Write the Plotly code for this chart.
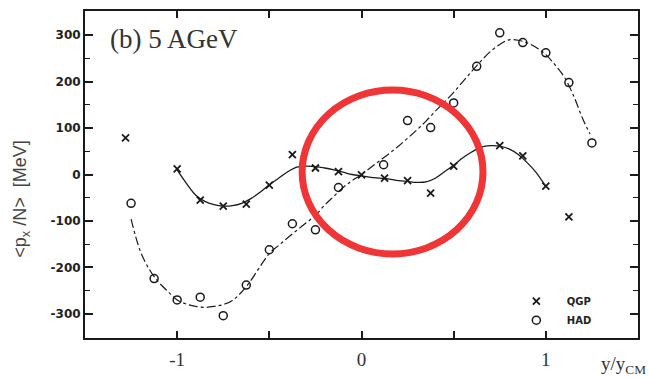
import plotly.graph_objects as go

# ---- data ----
qgp_x = [-1.28, -1.0, -0.875, -0.75, -0.625, -0.5, -0.375, -0.25, -0.125, 0.0,
         0.125, 0.25, 0.375, 0.5, 0.75, 0.875, 1.0, 1.125]
qgp_y = [79, 12, -55, -68, -64, -23, 43, 14, 6, -1,
         -8, -13, -40, 18, 62, 40, -25, -91]

had_x = [-1.25, -1.125, -1.0, -0.875, -0.75, -0.625, -0.5, -0.375, -0.25, -0.125,
         0.12, 0.25, 0.375, 0.5, 0.625, 0.75, 0.875, 1.0, 1.125, 1.25]
had_y = [-62, -224, -270, -264, -304, -238, -162, -106, -119, -28,
         21, 116, 101, 154, 233, 305, 284, 262, 198, 68]

qgp_curve_x = [-1.0, -0.95, -0.9, -0.85, -0.8, -0.75, -0.7, -0.65, -0.6, -0.55,
               -0.5, -0.45, -0.4, -0.35, -0.3, -0.25, -0.2, -0.15, -0.1, -0.05,
               0.0, 0.05, 0.1, 0.15, 0.2, 0.25, 0.3, 0.35, 0.4, 0.45,
               0.5, 0.55, 0.6, 0.65, 0.7, 0.75, 0.8, 0.85, 0.9, 0.95, 1.0]
qgp_curve_y = [10, -19, -44, -58, -65, -68, -67, -62, -52, -38,
               -22, -8, 6, 16, 18, 17, 14, 10, 5, 0,
               -3, -6, -8, -10, -13, -15, -17, -16, -8, 6,
               20, 36, 49, 59, 62, 61, 55, 43, 25, 3, -26]

had_curve_x = [-1.25, -1.2, -1.15, -1.1, -1.05, -1.0, -0.95, -0.9, -0.85, -0.8,
               -0.75, -0.7, -0.65, -0.6, -0.55, -0.5, -0.45, -0.4, -0.35, -0.3,
               -0.25, -0.2, -0.15, -0.1, -0.05, 0.0, 0.05, 0.1, 0.15, 0.2,
               0.25, 0.3, 0.35, 0.4, 0.45, 0.5, 0.55, 0.6, 0.65, 0.7,
               0.75, 0.8, 0.85, 0.9, 0.95, 1.0, 1.05, 1.1, 1.15, 1.2, 1.24]
had_curve_y = [-96, -165, -205, -232, -252, -270, -279, -284, -286, -284,
               -280, -271, -253, -228, -198, -170, -153, -136, -120, -104,
               -88, -66, -47, -28, -13, 0, 15, 30, 45, 61,
               78, 96, 115, 136, 156, 177, 200, 223, 245, 265,
               280, 290, 289, 283, 273, 258, 236, 210, 170, 120, 87]

x_tickvals = [-1, 0, 1]
x_ticktext = ["-1", "0", "1"]
y_tickvals = [300, 200, 100, 0, -100, -200, -300]
y_ticktext = ["300", "200", "100", "0", "-100", "-200", "-300"]

ink = "#1a1a1a"

fig = go.Figure()

fig.add_trace(go.Scatter(x=qgp_curve_x, y=qgp_curve_y, mode="lines",
                         line=dict(color=ink, width=1.3, shape="spline"),
                         showlegend=False, hoverinfo="skip"))
fig.add_trace(go.Scatter(x=had_curve_x, y=had_curve_y, mode="lines",
                         line=dict(color=ink, width=1.2, dash="dashdot", shape="spline"),
                         showlegend=False, hoverinfo="skip"))
fig.add_trace(go.Scatter(x=qgp_x, y=qgp_y, mode="markers", name="&nbsp;&nbsp;&nbsp;QGP",
                         marker=dict(symbol="x-thin-open", size=7, color=ink,
                                     line=dict(color=ink, width=1.8))))
fig.add_trace(go.Scatter(x=had_x, y=had_y, mode="markers", name="&nbsp;&nbsp;&nbsp;HAD",
                         marker=dict(symbol="circle-open", size=8, color=ink,
                                     line=dict(color=ink, width=1.5))))

# red highlight ellipse
fig.add_shape(type="circle", xref="x", yref="y", x0=-0.322, x1=0.659, y0=-171, y1=182,
              line=dict(color="#ef3535", width=7), layer="above")

fig.add_annotation(text="(b) 5 AGeV", xref="paper", yref="paper", x=0.042, y=0.915,
                   xanchor="left", yanchor="middle", showarrow=False,
                   font=dict(family="Liberation Serif", size=27, color="#333"))
fig.add_annotation(text="&lt;p<sub>x</sub> /N&gt;  [MeV]", xref="paper", yref="paper",
                   x=0, xshift=-63, y=0.423, textangle=-90, showarrow=False,
                   xanchor="center", yanchor="middle",
                   font=dict(family="Liberation Sans", size=18, color="#444"))
fig.add_annotation(text="y/y<sub>CM</sub>", xref="paper", yref="paper",
                   x=1, xshift=10, y=0, yshift=-27, xanchor="right", yanchor="middle",
                   showarrow=False,
                   font=dict(family="Liberation Serif", size=19, color="#333"))

fig.update_layout(
    width=651, height=379,
    margin=dict(l=85, r=13, t=9, b=39),
    paper_bgcolor="white", plot_bgcolor="white",
    legend=dict(x=0.78, y=0.157, xanchor="left", yanchor="top",
                bgcolor="rgba(0,0,0,0)",
                font=dict(family="DejaVu Sans", size=10, color="#222", weight="bold"),
                itemwidth=30, tracegroupgap=0),
)
fig.update_xaxes(range=[-1.5, 1.5], showgrid=False, zeroline=False,
                 showline=True, linewidth=2, linecolor=ink, mirror="allticks",
                 ticks="inside", ticklen=7, tickwidth=1.5, tickcolor=ink,
                 tickvals=x_tickvals, ticktext=x_ticktext,
                 minor=dict(dtick=0.5, ticks="inside", ticklen=7, tickcolor=ink, tickwidth=1.5),
                 ticklabelstandoff=3,
                 tickfont=dict(family="Liberation Serif", size=19, color="#333"))
fig.update_yaxes(range=[-352, 352], showgrid=False, zeroline=False,
                 showline=True, linewidth=2, linecolor=ink, mirror="allticks",
                 ticks="inside", ticklen=8, tickwidth=1.5, tickcolor=ink,
                 tickvals=y_tickvals, ticktext=y_ticktext,
                 minor=dict(dtick=50, ticks="inside", ticklen=5, tickcolor=ink, tickwidth=1),
                 tickfont=dict(family="DejaVu Sans", size=12, color="#222", weight="bold"))

fig.write_html("out.html")
